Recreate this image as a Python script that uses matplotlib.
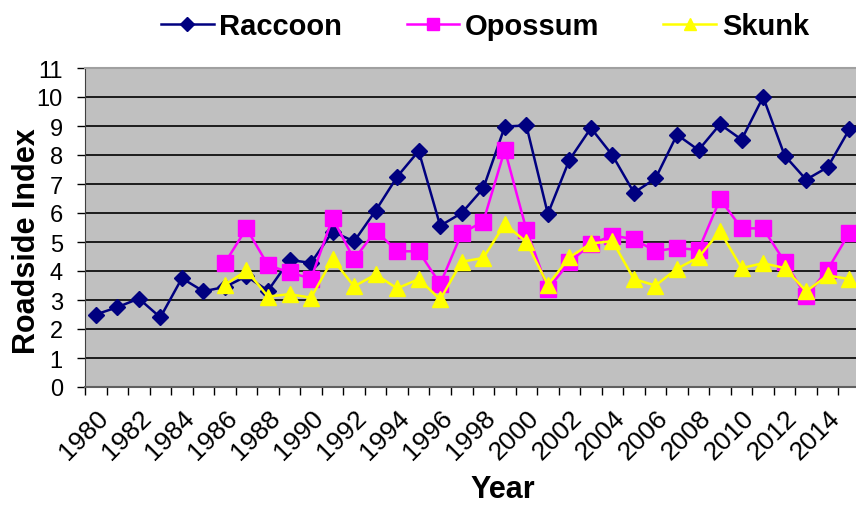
import matplotlib.pyplot as plt
import numpy as np
from matplotlib.lines import Line2D
from matplotlib.ticker import FixedLocator, MultipleLocator

plt.rcParams["font.family"] = ["Liberation Sans", "DejaVu Sans"]

# Data
years = list(range(1980, 2016))
raccoon = [2.5, 2.75, 3.05, 2.4, 3.75, 3.3, 3.45, 3.82, 3.32, 4.38,
           4.28, 5.36, 5.02, 6.08, 7.25, 8.14, 5.56, 6.0, 6.85, 8.98,
           9.02, 5.97, 7.83, 8.93, 7.99, 6.7, 7.19, 8.7, 8.17, 9.06,
           8.53, 10.0, 7.98, 7.15, 7.58, 8.88]
opossum = [np.nan] * 6 + [4.28, 5.47, 4.2, 3.95, 3.74, 5.82, 4.4, 5.39, 4.68, 4.68,
                          3.55, 5.31, 5.7, 8.18, 5.43, 3.38, 4.3, 4.93, 5.22, 5.1,
                          4.68, 4.8, 4.72, 6.48, 5.47, 5.47, 4.32, 3.13, 4.05, 5.31]
skunk = [np.nan] * 6 + [3.52, 4.02, 3.12, 3.2, 3.08, 4.41, 3.47, 3.88, 3.4, 3.72,
                        3.02, 4.32, 4.45, 5.62, 5.0, 3.52, 4.47, 4.95, 5.03, 3.72,
                        3.5, 4.08, 4.47, 5.37, 4.1, 4.27, 4.1, 3.3, 3.85, 3.72]
series_names = ["Raccoon", "Opossum", "Skunk"]
colors = ["#000080", "#FF00FF", "#FFFF00"]
markers = ["D", "s", "^"]
msizes = [8.5, 11, 11]

W, H = 856, 510
fig = plt.figure(figsize=(W / 100, H / 100), dpi=100)
# axes runs slightly past the right edge, as in the cropped reference
ax = fig.add_axes([85 / W, (H - 388) / H, (860 - 85) / W, (388 - 69) / H])
ax.set_facecolor("#C0C0C0")

x = np.arange(len(years))
for vals, c, m, ms in zip([raccoon, opossum, skunk], colors, markers, msizes):
    ax.plot(x, vals, color=c, marker=m, markersize=ms, linewidth=1.8,
            markeredgecolor=c, zorder=3)

ax.set_xlim(-0.5, len(years) - 0.5)
ax.set_ylim(0, 11)

# y axis
ax.yaxis.set_major_locator(MultipleLocator(1))
ax.grid(axis="y", color="black", linewidth=1.2)
ax.tick_params(axis="y", labelsize=17, length=6, width=1, pad=10, direction="out")

# x axis: ticks between categories, label every other year
ax.xaxis.set_major_locator(FixedLocator(x[::2]))
ax.set_xticklabels([str(y) for y in years[::2]], rotation=45, ha="right",
                   rotation_mode="anchor", fontsize=19)
ax.xaxis.set_minor_locator(FixedLocator(np.arange(-0.5, len(years), 1)))
ax.tick_params(axis="x", which="major", length=0, pad=13)
ax.tick_params(axis="x", which="minor", length=6, width=1, direction="out")

ax.spines["right"].set_visible(False)
ax.spines["top"].set_color("#A0A0A0")
ax.spines["top"].set_linewidth(1.5)
ax.spines["left"].set_color("#404040")
ax.spines["bottom"].set_color("#606060")
ax.spines["bottom"].set_linewidth(1.5)

fig.text(27 / W, 1 - 241 / H, "Roadside Index", rotation=90, ha="center",
         va="center", fontsize=22, fontweight="bold")
fig.text(503 / W, 1 - 490 / H, "Year", ha="center", va="center",
         fontsize=22, fontweight="bold")

handles = [Line2D([], [], color=c, marker=m, markersize=ms * 0.85, linewidth=1.8)
           for c, m, ms in zip(colors, markers, msizes)]
fig.legend(handles, series_names, loc="center", ncol=3,
           bbox_to_anchor=(485 / W, 1 - 27 / H), frameon=False,
           prop={"size": 21, "weight": "bold"}, handlelength=1.8,
           handletextpad=0.2, columnspacing=2.2)

fig.savefig("out.png", dpi=100)
